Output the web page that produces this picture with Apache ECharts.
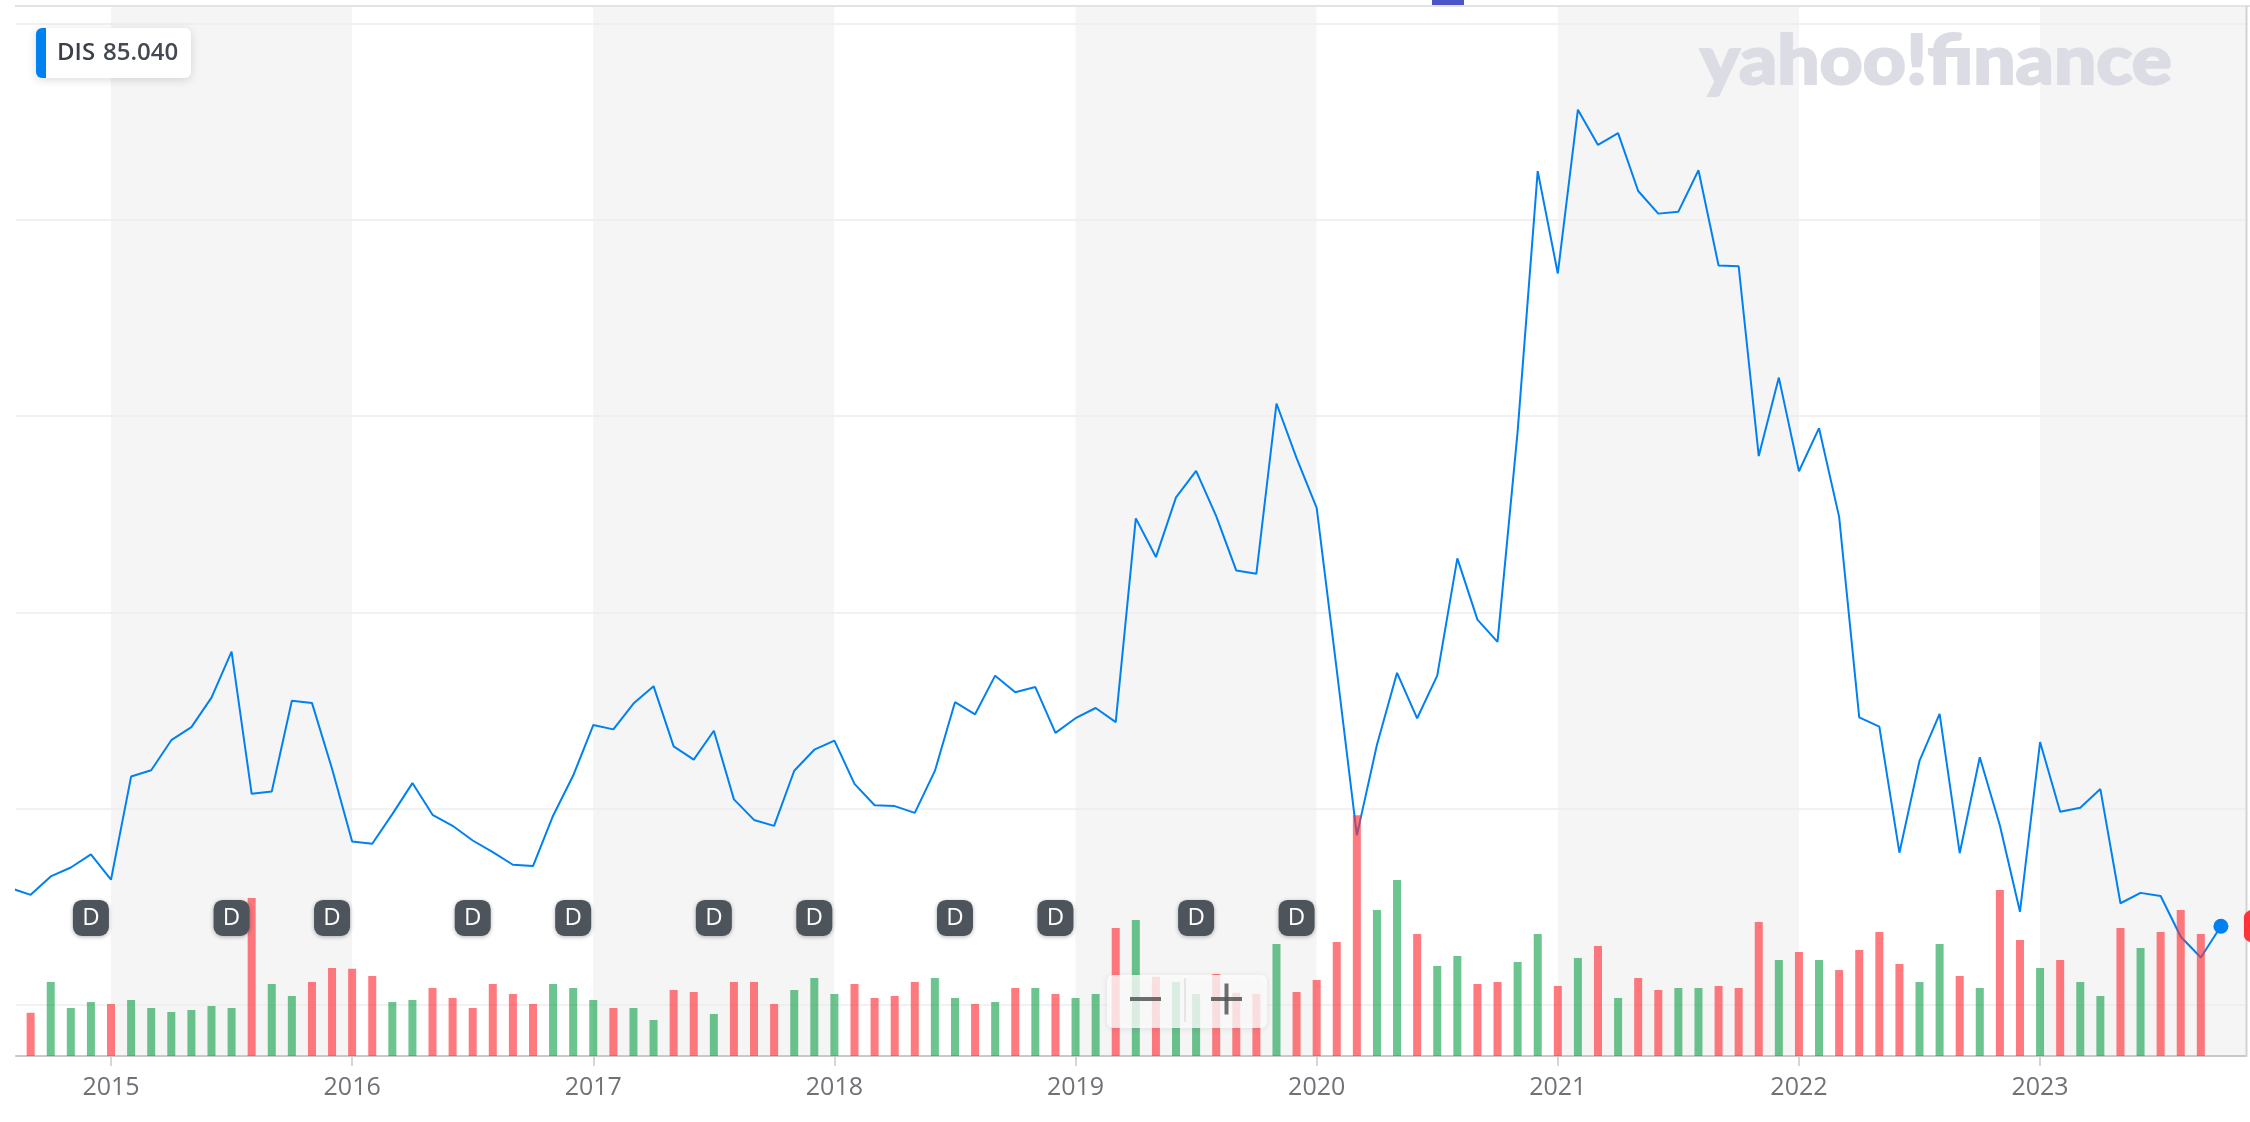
<!DOCTYPE html>
<html>
<head>
<meta charset="utf-8">
<title>DIS monthly</title>
<script src="https://cdn.jsdelivr.net/npm/echarts@6/dist/echarts.min.js"></script>
<style>
  html, body { margin: 0; padding: 0; background: #fff; }
  #chart { width: 2250px; height: 1122px; }
</style>
</head>
<body>
<div id="chart"></div>
<script>
const ticker = 'DIS';
const lastPrice = 85.04;

// one point per month, Aug 2014 .. Oct 2023
const months = [
  '2014-08', '2014-09', '2014-10', '2014-11', '2014-12',
  '2015-01', '2015-02', '2015-03', '2015-04', '2015-05', '2015-06', '2015-07', '2015-08', '2015-09', '2015-10', '2015-11', '2015-12',
  '2016-01', '2016-02', '2016-03', '2016-04', '2016-05', '2016-06', '2016-07', '2016-08', '2016-09', '2016-10', '2016-11', '2016-12',
  '2017-01', '2017-02', '2017-03', '2017-04', '2017-05', '2017-06', '2017-07', '2017-08', '2017-09', '2017-10', '2017-11', '2017-12',
  '2018-01', '2018-02', '2018-03', '2018-04', '2018-05', '2018-06', '2018-07', '2018-08', '2018-09', '2018-10', '2018-11', '2018-12',
  '2019-01', '2019-02', '2019-03', '2019-04', '2019-05', '2019-06', '2019-07', '2019-08', '2019-09', '2019-10', '2019-11', '2019-12',
  '2020-01', '2020-02', '2020-03', '2020-04', '2020-05', '2020-06', '2020-07', '2020-08', '2020-09', '2020-10', '2020-11', '2020-12',
  '2021-01', '2021-02', '2021-03', '2021-04', '2021-05', '2021-06', '2021-07', '2021-08', '2021-09', '2021-10', '2021-11', '2021-12',
  '2022-01', '2022-02', '2022-03', '2022-04', '2022-05', '2022-06', '2022-07', '2022-08', '2022-09', '2022-10', '2022-11', '2022-12',
  '2023-01', '2023-02', '2023-03', '2023-04', '2023-05', '2023-06', '2023-07', '2023-08', '2023-09', '2023-10'
];

// monthly close, USD
const closes = [
  89.88, 89.03, 91.38, 92.51, 94.19,
  90.96, 104.09, 104.89, 108.72, 110.38, 114.14, 120.00, 101.90, 102.20, 113.74, 113.47, 105.08,
  95.83, 95.53, 99.31, 103.26, 99.22, 97.82, 95.95, 94.46, 92.86, 92.69, 99.11, 104.22,
  110.65, 110.10, 113.39, 115.60, 107.94, 106.25, 109.93, 101.19, 98.57, 97.81, 104.83, 107.51,
  108.67, 103.16, 100.44, 100.33, 99.47, 104.81, 113.56, 112.02, 116.94, 114.83, 115.49, 109.65,
  111.52, 112.82, 111.03, 136.97, 132.04, 139.64, 143.01, 137.25, 130.32, 129.92, 151.59, 144.63,
  138.31, 117.65, 96.60, 108.15, 117.30, 111.51, 116.94, 131.87, 124.08, 121.25, 148.02, 181.18,
  168.15, 189.00, 184.52, 186.02, 178.65, 175.77, 176.02, 181.30, 169.17, 169.07, 144.90, 154.89,
  142.97, 148.45, 137.16, 111.63, 110.44, 94.40, 106.10, 112.08, 94.33, 106.54, 97.87, 86.88,
  108.49, 99.61, 100.13, 102.50, 87.96, 89.28, 88.89, 83.70, 81.05, 85.04
];

// monthly volume, millions of shares (no bar for first and current month)
const volumes = [
  null, 108, 185, 120, 135,
  130, 140, 120, 110, 115, 125, 120, 395, 180, 150, 185, 220,
  218, 200, 135, 140, 170, 145, 120, 180, 155, 130, 180, 170,
  140, 120, 120, 90, 165, 160, 105, 185, 185, 130, 165, 195,
  155, 180, 145, 150, 185, 195, 145, 130, 135, 170, 170, 155,
  145, 155, 320, 340, 198, 185, 155, 205, 158, 155, 280, 160,
  190, 285, 602, 365, 440, 305, 225, 250, 180, 185, 235, 305,
  175, 245, 275, 145, 195, 165, 170, 170, 175, 170, 335, 240,
  260, 240, 215, 265, 310, 230, 185, 280, 200, 170, 415, 290,
  220, 240, 185, 150, 320, 270, 310, 365, 305, null
];

// dividend markers
const dividendMonths = [
  '2014-12', '2015-07', '2015-12', '2016-07', '2016-12', '2017-07',
  '2017-12', '2018-07', '2018-12', '2019-07', '2019-12'
];

const yearTicks = [2015, 2016, 2017, 2018, 2019, 2020, 2021, 2022, 2023];
const gridLevels = [75, 100, 125, 150, 175, 200];

const FONT = '"Open Sans", "Noto Sans", sans-serif';
const BLUE = '#0081f2';
const UP = 'rgba(10, 157, 68, 0.6)';
const DOWN = 'rgba(255, 51, 58, 0.65)';
const badgeRow = 0.1316;
const X_MIN = 2014.606;
const X_MAX = 2023.854;

function toX (m) {
  const parts = m.split('-');
  return Number(parts[0]) + (Number(parts[1]) - 1) / 12;
}

const lastIdx = closes.length - 1;
const priceData = months.map((m, i) => [toX(m), closes[i]]);
const volumeData = months.map((m, i) => {
  if (volumes[i] == null) return null;
  return {
    value: [toX(m), volumes[i]],
    itemStyle: { color: closes[i] >= closes[i - 1] ? UP : DOWN }
  };
}).filter(d => d);
const dividendData = dividendMonths.map(m => [toX(m), badgeRow]);

const chart = echarts.init(document.getElementById('chart'));

const option = {
  animation: false,
  backgroundColor: '#ffffff',
  grid: { left: 16, right: 4, top: 7, bottom: 66 },
  xAxis: [
    {
      type: 'value',
      min: X_MIN,
      max: X_MAX,
      minInterval: 1,
      maxInterval: 1,
      splitNumber: 9,
      z: 1,
      axisLine: { lineStyle: { color: '#c9c9c9', width: 2 } },
      axisTick: {
        show: true,
        length: 10,
        customValues: yearTicks,
        lineStyle: { color: '#c9c9c9', width: 1.5 }
      },
      axisLabel: {
        customValues: yearTicks,
        formatter: v => String(Math.round(v)),
        fontSize: 25,
        fontWeight: 500,
        color: '#6f7276',
        fontFamily: FONT,
        margin: 19
      },
      splitLine: { show: false },
      splitArea: { show: false }
    },
    {
      // only for the alternating year bands
      type: 'value',
      min: X_MIN,
      max: X_MAX,
      minInterval: 1,
      maxInterval: 1,
      splitNumber: 9,
      position: 'top',
      z: 0,
      axisLine: { show: false },
      axisTick: { show: false },
      axisLabel: { show: false },
      splitLine: { show: false },
      splitArea: { show: true, areaStyle: { color: ['#ffffff', '#f5f5f5'] } }
    }
  ],
  yAxis: [
    { type: 'value', min: 68.51, max: 202.08, show: false },
    { type: 'value', min: 0, max: 2622, show: false },
    { type: 'value', min: 0, max: 1, show: false }
  ],
  series: [
    {
      name: ticker,
      type: 'line',
      yAxisIndex: 0,
      data: priceData,
      z: 2,
      silent: true,
      clip: true,
      showSymbol: true,
      showAllSymbol: true,
      symbol: (val, params) => (params.dataIndex === lastIdx ? 'circle' : 'none'),
      symbolSize: 15,
      itemStyle: { color: BLUE },
      lineStyle: { color: BLUE, width: 2 },
      markLine: {
        silent: true,
        z: 1,
        animation: false,
        symbol: ['none', 'none'],
        label: { show: false },
        lineStyle: { color: '#ececec', width: 1.5, type: 'solid' },
        data: gridLevels.map(v => ({ yAxis: v }))
      },
      markPoint: {
        silent: true,
        z: 6,
        animation: false,
        data: [{
          coord: [toX(months[lastIdx]), lastPrice],
          symbol: 'roundRect',
          symbolSize: [64, 36],
          symbolOffset: [55, 0],
          itemStyle: { color: '#ff333a' },
          label: {
            show: true,
            position: 'inside',
            formatter: lastPrice.toFixed(2),
            color: '#fff',
            fontSize: 20,
            fontFamily: FONT
          }
        }]
      }
    },
    {
      name: 'Volume',
      type: 'bar',
      yAxisIndex: 1,
      data: volumeData,
      barWidth: 8,
      z: 3,
      silent: true
    },
    {
      name: 'Dividend',
      type: 'scatter',
      yAxisIndex: 2,
      data: dividendData,
      z: 4,
      silent: true,
      symbol: 'roundRect',
      symbolSize: 36,
      itemStyle: {
        color: '#4d545c',
        opacity: 1,
        shadowBlur: 4,
        shadowColor: 'rgba(0,0,0,0.3)',
        shadowOffsetY: 1
      },
      label: {
        show: true,
        position: 'inside',
        formatter: 'D',
        color: '#ffffff',
        fontSize: 24,
        fontFamily: FONT
      }
    }
  ],
  graphic: [
    // frame
    { type: 'line', z: 5, silent: true, shape: { x1: 15, y1: 6, x2: 2250, y2: 6 }, style: { stroke: '#e3e3e3', lineWidth: 2 } },
    { type: 'line', z: 5, silent: true, shape: { x1: 2246.5, y1: 6, x2: 2246.5, y2: 1057 }, style: { stroke: '#d3d3d3', lineWidth: 2 } },
    { type: 'rect', z: 5, silent: true, shape: { x: 1432, y: 0, width: 32, height: 5 }, style: { fill: '#4b55c7' } },
    // watermark
    {
      type: 'text', z: 1, silent: true, x: 1700, y: 28, scaleX: 1.1,
      style: { text: 'yahoo!finance', fill: '#dcdde4', font: '900 68px Lato, "DejaVu Sans", sans-serif', stroke: '#dcdde4', lineWidth: 2 }
    },
    // ticker legend
    { type: 'rect', z: 10, silent: true, shape: { x: 36, y: 28, width: 155, height: 50, r: 6 }, style: { fill: '#fff', shadowBlur: 10, shadowColor: 'rgba(0,0,0,0.14)', shadowOffsetY: 2 } },
    { type: 'rect', z: 11, silent: true, shape: { x: 36, y: 28, width: 10, height: 50, r: [6, 0, 0, 6] }, style: { fill: BLUE } },
    { type: 'text', z: 11, silent: true, x: 57, y: 53, style: { text: ticker, fill: '#3b3f48', font: '600 24px ' + FONT, verticalAlign: 'middle' } },
    { type: 'text', z: 11, silent: true, x: 103, y: 53, style: { text: lastPrice.toFixed(3), fill: '#454952', font: '600 24px ' + FONT, verticalAlign: 'middle' } },
    // zoom control
    { type: 'rect', z: 10, silent: true, shape: { x: 1107, y: 975, width: 160, height: 53, r: 6 }, style: { fill: 'rgba(255,255,255,0.78)', shadowBlur: 6, shadowColor: 'rgba(0,0,0,0.12)', shadowOffsetY: 1 } },
    { type: 'line', z: 11, silent: true, shape: { x1: 1185, y1: 978, x2: 1185, y2: 1022 }, style: { stroke: 'rgba(0,0,0,0.1)', lineWidth: 1.5 } },
    { type: 'rect', z: 11, silent: true, shape: { x: 1130, y: 997, width: 31, height: 4 }, style: { fill: 'rgba(85,85,85,0.85)' } },
    { type: 'rect', z: 11, silent: true, shape: { x: 1211, y: 997, width: 31, height: 4 }, style: { fill: 'rgba(85,85,85,0.85)' } },
    { type: 'rect', z: 11, silent: true, shape: { x: 1224.5, y: 983.5, width: 4, height: 31 }, style: { fill: 'rgba(85,85,85,0.85)' } }
  ]
};

chart.setOption(option);
</script>
</body>
</html>
